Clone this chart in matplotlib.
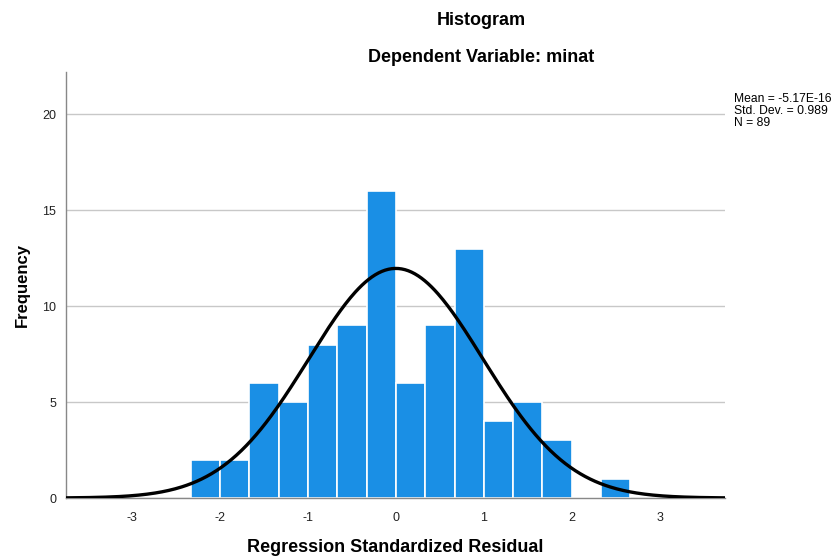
import numpy as np
import matplotlib
matplotlib.use('Agg')
import matplotlib.pyplot as plt

plt.rcParams['font.family'] = ['Liberation Sans', 'DejaVu Sans']
plt.rcParams['axes.unicode_minus'] = False

# bin edges and counts (bin width 1/3)
bin_edges = [-7/3, -2, -5/3, -4/3, -1, -2/3, -1/3, 0, 1/3, 2/3, 1, 4/3, 5/3, 2, 7/3, 8/3]
counts = [2, 2, 6, 5, 8, 9, 16, 6, 9, 13, 4, 5, 3, 0, 1]

mean = -5.17e-16
std = 0.989
n = 89

fig = plt.figure(figsize=(8.33, 5.56), dpi=100)
ax = fig.add_axes([0.0792, 0.1043, 0.791, 0.766])

edges = np.array(bin_edges)
widths = np.diff(edges)
ax.bar(edges[:-1], counts, width=widths, align='edge', color='#1a8fe5',
       edgecolor='white', linewidth=1.2, zorder=2)

# fitted normal curve
x = np.linspace(-3.75, 3.75, 400)
bw = 1/3
y = n * bw / (std * np.sqrt(2 * np.pi)) * np.exp(-0.5 * ((x - mean) / std) ** 2)
ax.plot(x, y, color='black', linewidth=2.4, zorder=3)

ax.set_xlim(-3.75, 3.74)
ax.set_ylim(0, 22.2)
ax.set_yticks([0, 5, 10, 15, 20])
ax.set_xticks([-3, -2, -1, 0, 1, 2, 3])
ax.yaxis.grid(True, color='#c8c8c8', linewidth=1, zorder=0)
ax.set_axisbelow(True)
ax.tick_params(length=0, labelsize=9, colors='#222222')
ax.tick_params(axis='x', pad=10)
ax.tick_params(axis='y', pad=7)
for s in ['top', 'right']:
    ax.spines[s].set_visible(False)
for s in ['left', 'bottom']:
    ax.spines[s].set_color('#888888')
    ax.spines[s].set_linewidth(1)

ax.set_ylabel('Frequency', fontsize=12, fontweight='bold', labelpad=9)
ax.set_xlabel('Regression Standardized Residual', fontsize=13, fontweight='bold', labelpad=11)

fig.text(0.578, 0.963, 'Histogram', ha='center', va='center', fontsize=13, fontweight='bold')
fig.text(0.578, 0.897, 'Dependent Variable: minat', ha='center', va='center',
         fontsize=13, fontweight='bold')

fig.text(0.881, 0.832, 'Mean = -5.17E-16\nStd. Dev. = 0.989\nN = 89',
         ha='left', va='top', fontsize=8.7, linespacing=0.98)

fig.savefig('out.png', dpi=100)
